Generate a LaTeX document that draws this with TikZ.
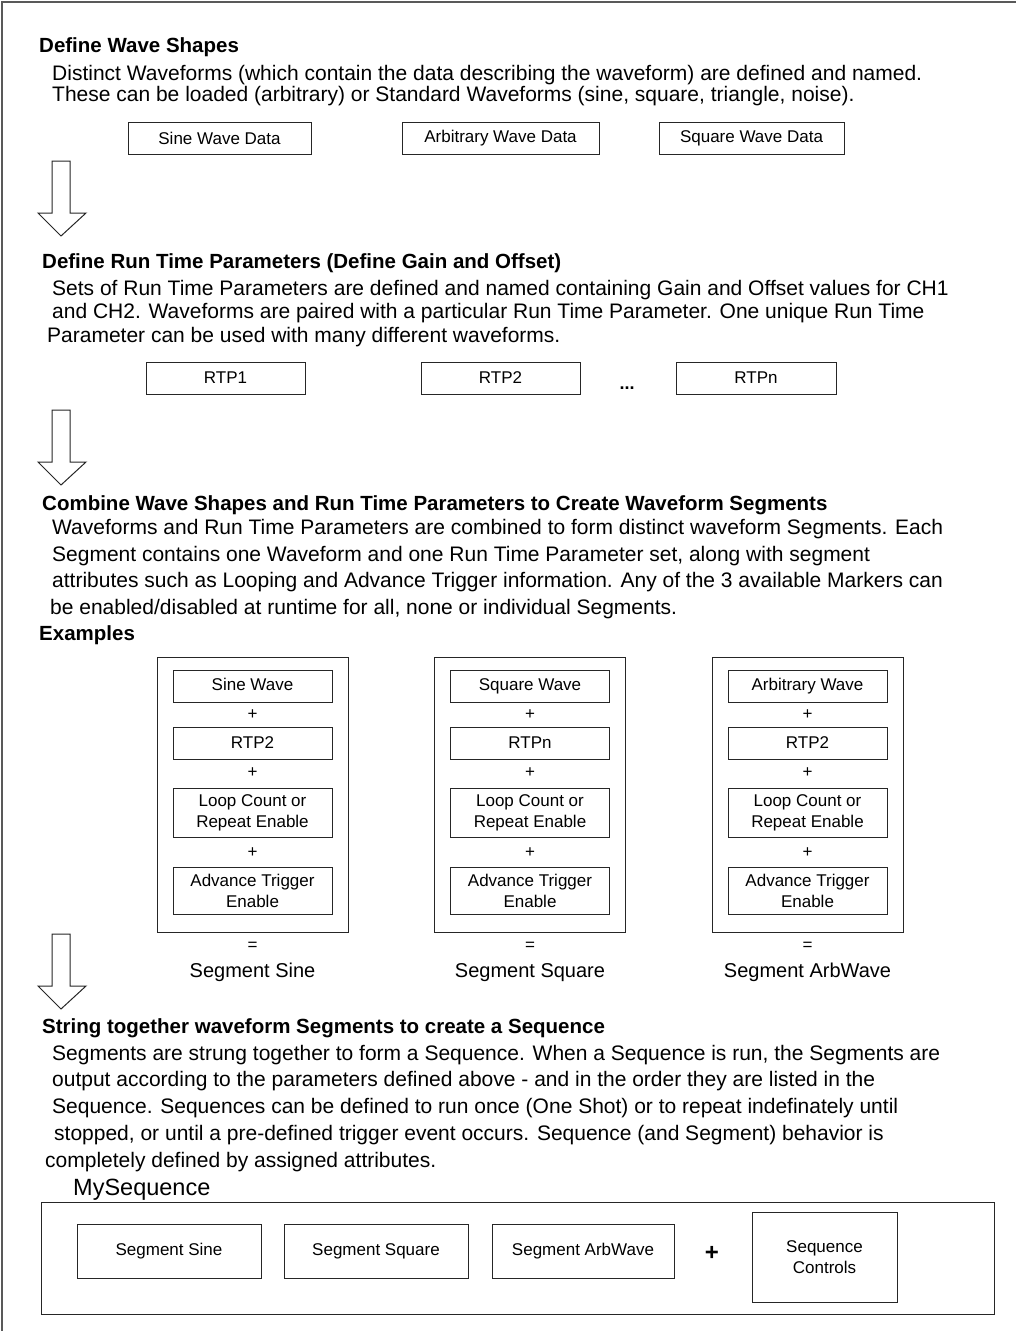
\documentclass[tikz,border=0pt]{standalone}
\usepackage{fontspec}
\setmainfont{Liberation Sans}
\usetikzlibrary{positioning}

\begin{document}
\begin{tikzpicture}[%
    x=1pt, y=-1pt,
    head/.style={anchor=base west, inner sep=0pt, font=\bfseries\fontsize{20.5}{24}\selectfont},
    para/.style={anchor=base west, align=left, inner sep=0pt},
    databox/.style={rectangle, align=center, draw=black!85, line width=1pt, minimum height=32pt, font=\fontsize{17}{20}\selectfont},
    partbox/.style={rectangle, align=center, draw=black!85, line width=1pt, minimum width=159pt, inner sep=0pt, font=\fontsize{17}{21}\selectfont},
    groupbox/.style={rectangle, draw=black!85, line width=1pt, minimum width=191pt, minimum height=275pt},
    plus/.style={inner sep=0pt, font=\fontsize{17}{20}\selectfont},
    segname/.style={anchor=base, inner sep=0pt, font=\fontsize{20}{24}\selectfont},
    segbox/.style={rectangle, align=center, draw=black!85, line width=1pt, minimum height=54pt, font=\fontsize{17}{21}\selectfont},
    bigarrow/.style={draw=black!85, line width=1pt, fill=white}
]

\useasboundingbox (0,0) rectangle (1016,1331);

% frame
\draw[black!65, line width=1.5pt] (2,1331) -- (2,2) -- (1016,2);


% wave shapes (para nodes sit on the baseline of their last line)
\node[head]      (waveshapes) at (39,52) {Define Wave Shapes};
\node[para, font=\fontsize{21}{21}\selectfont]      (wavetext) at (52,101) {Distinct Waveforms (which contain the data describing the waveform) are defined and named.\\These can be loaded (arbitrary) or Standard Waveforms (sine, square, triangle, noise).};

\node[databox, minimum width=183pt]      (sinedata) at (219.5,138) {Sine Wave Data};
\node[databox, minimum width=197pt]      (arbdata) [right=90pt of sinedata] {Arbitrary Wave Data};
\node[databox, minimum width=185pt]      (squaredata) [right=59pt of arbdata] {Square Wave Data};


% run time parameters
\node[head]      (rtptitle) at (42,268) {Define Run Time Parameters (Define Gain and Offset)};
\node[para, font=\fontsize{21}{23.5}\selectfont]      (rtptext) at (52,342) {Sets of Run Time Parameters are defined and named containing Gain and Offset values for CH1\\and CH2. Waveforms are paired with a particular Run Time Parameter. One unique Run Time\\\hspace*{-5pt}Parameter can be used with many different waveforms.};

\node[databox, minimum width=159pt]      (rtp1) at (225.5,378) {RTP1};
\node[databox, minimum width=159pt]      (rtp2) [right=115pt of rtp1] {RTP2};
\node[databox, minimum width=160pt]      (rtpn) [right=95pt of rtp2] {RTPn};
\node[inner sep=0pt, font=\bfseries\fontsize{18}{20}\selectfont]      (rtpdots) at (627,388) {...};


% segments
\node[head]      (segtitle) at (42,510) {Combine Wave Shapes and Run Time Parameters to Create Waveform Segments};
\node[para, font=\fontsize{21}{26.5}\selectfont]      (segtext) at (52,614) {Waveforms and Run Time Parameters are combined to form distinct waveform Segments. Each\\Segment contains one Waveform and one Run Time Parameter set, along with segment\\attributes such as Looping and Advance Trigger information. Any of the 3 available Markers can\\\hspace*{-2pt}be enabled/disabled at runtime for all, none or individual Segments.};
\node[head]      (examples) at (39,640) {Examples};

\foreach \name/\x/\wave/\rtp/\seg in {sine/252.5/Sine Wave/RTP2/Sine, square/530/Square Wave/RTPn/Square, arb/807.5/Arbitrary Wave/RTP2/ArbWave}{
  \node[groupbox]      (\name-group) at (\x,794.5) {};
  \node[partbox, minimum height=32pt, text height=12pt, text depth=3.5pt]      (\name-wave) at (\x,686) {\wave};
  \node[partbox, minimum height=32pt]      (\name-rtp) at (\x,743) {\rtp};
  \node[partbox, minimum height=49pt]      (\name-loop) at (\x,812.5) {Loop Count or\\Repeat Enable};
  \node[partbox, minimum height=47pt]      (\name-adv) at (\x,891) {Advance Trigger\\Enable};
  \node[plus]      (\name-p1) at (\x,715) {+};
  \node[plus]      (\name-p2) at (\x,773) {+};
  \node[plus]      (\name-p3) at (\x,853) {+};
  \node[plus]      (\name-eq) at (\x,946) {=};
  \node[segname]      (\name-seg) at (\x,977) {Segment \seg};
}


% sequence
\node[head]      (seqtitle) at (42,1033) {String together waveform Segments to create a Sequence};
\node[para, font=\fontsize{21}{26.75}\selectfont]      (seqtext) at (52,1167) {Segments are strung together to form a Sequence. When a Sequence is run, the Segments are\\output according to the parameters defined above - and in the order they are listed in the\\Sequence. Sequences can be defined to run once (One Shot) or to repeat indefinately until\\\hspace*{2pt}stopped, or until a pre-defined trigger event occurs. Sequence (and Segment) behavior is\\\hspace*{-7pt}completely defined by assigned attributes.};

\node[anchor=base west, inner sep=0pt, font=\fontsize{23.5}{28}\selectfont]      (myseq) at (73,1195) {MySequence};
\node[rectangle, draw=black!85, line width=1pt, minimum width=953pt, minimum height=112pt]      (seqframe) at (517.5,1258) {};

\node[segbox, minimum width=184pt]      (segsine) at (169,1251) {Segment Sine};
\node[segbox, minimum width=184pt]      (segsquare) [right=22pt of segsine] {Segment Square};
\node[segbox, minimum width=182pt]      (segarb) [right=23pt of segsquare] {Segment ArbWave};
\node[inner sep=0pt, font=\bfseries\fontsize{24}{28}\selectfont]      (seqplus) at (712,1253) {+};
\node[segbox, minimum width=145pt, minimum height=90pt]      (seqcontrols) at (824.5,1257) {Sequence\\Controls};


% arrows
\foreach \y in {161,410,934}
  \draw[bigarrow] (52,\y) -- (70,\y) -- (70,\y+52) -- (86,\y+52) -- (61,\y+75) -- (38,\y+52) -- (52,\y+52) -- cycle;

\end{tikzpicture}
\end{document}
